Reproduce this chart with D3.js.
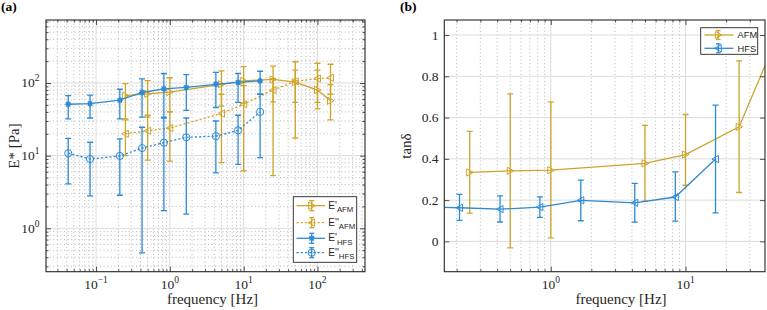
<!DOCTYPE html>
<html>
<head>
<meta charset="utf-8">
<script src="https://cdn.jsdelivr.net/npm/d3@7"></script>
<style>
  body { margin: 0; background: #fff; }
  svg { display: block; }
</style>
</head>
<body>
<svg id="chart" width="767" height="310"></svg>
<script>
// ---- data ----
const freqAFM = [0.25, 0.5, 1, 5, 10, 25, 50, 100, 150];
const storageAFM = [67, 71, 75, 96, 107, 112, 103, 80, 57];
const storageAFMLo = [32, 34, 40, 48, 53, 55, 54, 44, 31];
const storageAFMHi = [98, 108, 118, 147, 168, 171, 196, 150, 95];
const lossAFM = [20, 22, 24, 38, 51, 80, 105, 115, 118];
const lossAFMLo = [10, 8.7, 8.4, 8.0, 6.2, 5.3, 17.5, 54, 70];
const lossAFMHi = [31, 36, 40, 70, 92, 115, 150, 187, 181];

const freqHFS = [0.042, 0.083, 0.21, 0.42, 0.83, 1.67, 4.2, 8.4, 16.7];
const storageHFS = [51, 52, 58, 74, 83, 87, 96, 102, 107];
const storageHFSLo = [32, 33, 32, 34, 33, 42, 46, 54, 70];
const storageHFSHi = [67, 68, 82, 114, 135, 130, 140, 136, 145];
const lossHFS = [10.8, 9.0, 9.9, 12.7, 15.1, 17.9, 18.5, 22.3, 40];
const lossHFSLo = [4.1, 2.8, 2.85, 0.46, 1.75, 1.57, 5.8, 7.6, 9.4];
const lossHFSHi = [17.3, 15.3, 17, 24.6, 34, 33, 30, 36, 70];

const tanAFM = [0.334, 0.342, 0.345, 0.378, 0.421, 0.555, 1.02, 1.44, 2.07];
const tanAFMLo = [0.137, -0.032, 0.017, 0.195, 0.272, 0.237, 0.5, 0.8, 1.2];
const tanAFMHi = [0.533, 0.715, 0.676, 0.562, 0.615, 0.875, 1.6, 2.1, 2.9];
const tanHFS = [0.21, 0.17, 0.163, 0.156, 0.166, 0.199, 0.187, 0.215, 0.399];
const tanHFSLo = [0.1, 0.08, 0.102, 0.094, 0.116, 0.1, 0.093, 0.098, 0.138];
const tanHFSHi = [0.3, 0.26, 0.228, 0.221, 0.216, 0.297, 0.281, 0.337, 0.66];

const tanTicks = [0, 0.2, 0.4, 0.6, 0.8, 1];

// ---- styling ----
const GOLD = '#cfa42a';
const BLUE = '#2d8bd6';
const AXIS = '#262626';
const SERIF = '"Liberation Serif", "DejaVu Serif", serif';
const SANS = '"Liberation Sans", Arial, sans-serif';

const svg = d3.select('#chart');
const defs = svg.append('defs');

function logMinor(domain) {
  const out = [];
  const d0 = Math.floor(Math.log10(domain[0]));
  const d1 = Math.ceil(Math.log10(domain[1]));
  for (let d = d0; d <= d1; d++) {
    for (let k = 2; k <= 9; k++) {
      const v = k * Math.pow(10, d);
      if (v >= domain[0] && v <= domain[1]) out.push(v);
    }
  }
  return out;
}

function logMajor(domain) {
  const out = [];
  for (let d = Math.ceil(Math.log10(domain[0])); Math.pow(10, d) <= domain[1]; d++) out.push(Math.pow(10, d));
  return out;
}

function powLabel(sel, v) {
  const e = Math.round(Math.log10(v));
  sel.append('tspan').text('10');
  sel.append('tspan').attr('dy', -6).attr('font-size', 9.5).text(e < 0 ? '\u2212' + (-e) : e);
}

// marker shapes
const markers = {
  right: 'M-3,-3.6L3.6,0L-3,3.6Z',
  left: 'M3,-3.6L-3.6,0L3,3.6Z',
  star: 'M-3,0L3,0M0,-3L0,3M-2.2,-2.2L2.2,2.2M-2.2,2.2L2.2,-2.2',
};

function drawSeries(g, x, y, xs, ys, lo, hi, color, dashed, marker) {
  const pts = xs.map((f, i) => ({ f, v: ys[i], lo: lo[i], hi: hi[i] }));
  const line = d3.line().x(d => x(d.f)).y(d => y(d.v));
  g.append('path').datum(pts)
    .attr('d', line)
    .attr('fill', 'none')
    .attr('stroke', color)
    .attr('stroke-width', 1.3)
    .attr('stroke-dasharray', dashed ? '2.2,2' : null);
  const eb = g.append('g').attr('stroke', color).attr('stroke-width', 1.3).attr('fill', 'none');
  pts.forEach(d => {
    const cx = x(d.f);
    eb.append('line').attr('x1', cx).attr('x2', cx).attr('y1', y(d.lo)).attr('y2', y(d.hi));
    eb.append('line').attr('x1', cx - 3).attr('x2', cx + 3).attr('y1', y(d.lo)).attr('y2', y(d.lo));
    eb.append('line').attr('x1', cx - 3).attr('x2', cx + 3).attr('y1', y(d.hi)).attr('y2', y(d.hi));
  });
  drawMarkers(g, pts.map(d => [x(d.f), y(d.v)]), color, marker);
}

function drawMarkers(g, coords, color, marker) {
  const mg = g.append('g').attr('stroke', color).attr('stroke-width', 1);
  coords.forEach(([cx, cy]) => {
    if (marker === 'circle') {
      mg.append('circle').attr('cx', cx).attr('cy', cy).attr('r', 3.6).attr('fill', 'none');
    } else {
      mg.append('path').attr('d', markers[marker])
        .attr('transform', `translate(${cx},${cy})`)
        .attr('fill', 'none')
        .attr('stroke-width', marker === 'star' ? 1.4 : 1);
    }
  });
}

function frame(box, x, y, xMajor, xMinor, yMajor, yMinor, id) {
  const g = svg.append('g');
  // grid
  const grid = g.append('g');
  grid.selectAll('.xmin').data(xMinor).enter().append('line')
    .attr('x1', d => x(d)).attr('x2', d => x(d)).attr('y1', box.y0).attr('y2', box.y1)
    .attr('stroke', '#b0b0b0').attr('stroke-width', 0.9).attr('stroke-dasharray', '1,2.6');
  grid.selectAll('.ymin').data(yMinor).enter().append('line')
    .attr('y1', d => y(d)).attr('y2', d => y(d)).attr('x1', box.x0).attr('x2', box.x1)
    .attr('stroke', '#b0b0b0').attr('stroke-width', 0.9).attr('stroke-dasharray', '1,2.6');
  grid.selectAll('.xmaj').data(xMajor).enter().append('line')
    .attr('x1', d => x(d)).attr('x2', d => x(d)).attr('y1', box.y0).attr('y2', box.y1)
    .attr('stroke', '#dcdcdc').attr('stroke-width', 1);
  grid.selectAll('.ymaj').data(yMajor).enter().append('line')
    .attr('y1', d => y(d)).attr('y2', d => y(d)).attr('x1', box.x0).attr('x2', box.x1)
    .attr('stroke', '#dcdcdc').attr('stroke-width', 1);

  defs.append('clipPath').attr('id', id).append('rect')
    .attr('x', box.x0).attr('y', box.y0).attr('width', box.x1 - box.x0).attr('height', box.y1 - box.y0);
  const plot = g.append('g').attr('clip-path', `url(#${id})`);
  return { g, plot };
}

function axes(g, box, x, y, xMajor, xMinor, yMajor, yMinor) {
  const ax = g.append('g');
  const put = (axisFn, tr, vals, size) => {
    const a = ax.append('g').attr('transform', tr)
      .call(axisFn.tickValues(vals).tickSize(size).tickFormat(''));
    a.select('.domain').remove();
    a.selectAll('line').attr('stroke', AXIS).attr('stroke-width', 0.8);
  };
  put(d3.axisBottom(x), `translate(0,${box.y1})`, xMajor, -5);
  put(d3.axisBottom(x), `translate(0,${box.y1})`, xMinor, -2.5);
  put(d3.axisTop(x), `translate(0,${box.y0})`, xMajor, -5);
  put(d3.axisTop(x), `translate(0,${box.y0})`, xMinor, -2.5);
  put(d3.axisLeft(y), `translate(${box.x0},0)`, yMajor, -5);
  put(d3.axisRight(y), `translate(${box.x1},0)`, yMajor, -5);
  if (yMinor.length) {
    put(d3.axisLeft(y), `translate(${box.x0},0)`, yMinor, -2.5);
    put(d3.axisRight(y), `translate(${box.x1},0)`, yMinor, -2.5);
  }
  ax.append('rect').attr('x', box.x0).attr('y', box.y0)
    .attr('width', box.x1 - box.x0).attr('height', box.y1 - box.y0)
    .attr('fill', 'none').attr('stroke', AXIS).attr('stroke-width', 1.1);
}

// ================= panel (a) =================
const boxA = { x0: 46, x1: 365, y0: 20, y1: 271.7 };
const xA = d3.scaleLog().domain([0.021, 440]).range([boxA.x0, boxA.x1]);
const yA = d3.scaleLog().domain([0.253, 736]).range([boxA.y1, boxA.y0]);
const xAMajor = logMajor(xA.domain());
const xAMinor = logMinor(xA.domain());
const yAMajor = logMajor(yA.domain());
const yAMinor = logMinor(yA.domain());

const A = frame(boxA, xA, yA, xAMajor, xAMinor, yAMajor, yAMinor, 'clipA');
drawSeries(A.plot, xA, yA, freqAFM, storageAFM, storageAFMLo, storageAFMHi, GOLD, false, 'right');
drawSeries(A.plot, xA, yA, freqAFM, lossAFM, lossAFMLo, lossAFMHi, GOLD, true, 'left');
drawSeries(A.plot, xA, yA, freqHFS, storageHFS, storageHFSLo, storageHFSHi, BLUE, false, 'star');
drawSeries(A.plot, xA, yA, freqHFS, lossHFS, lossHFSLo, lossHFSHi, BLUE, true, 'circle');
axes(A.g, boxA, xA, yA, xAMajor, xAMinor, yAMajor, yAMinor);

xAMajor.forEach(v => {
  const t = A.g.append('text').attr('x', xA(v)).attr('y', 289)
    .attr('text-anchor', 'middle').attr('font-family', SERIF).attr('font-size', 13.5).attr('fill', AXIS);
  powLabel(t, v);
});
yAMajor.forEach(v => {
  const t = A.g.append('text').attr('x', 39.5).attr('y', yA(v) + 4.5)
    .attr('text-anchor', 'end').attr('font-family', SERIF).attr('font-size', 13.5).attr('fill', AXIS);
  powLabel(t, v);
});
A.g.append('text').attr('x', 212.5).attr('y', 304).attr('text-anchor', 'middle')
  .attr('font-family', SERIF).attr('font-size', 15).attr('fill', AXIS).text('frequency [Hz]');
A.g.append('text').attr('transform', 'translate(19,146) rotate(-90)').attr('text-anchor', 'middle')
  .attr('font-family', SERIF).attr('font-size', 15).attr('fill', AXIS).text('E* [Pa]');
svg.append('text').attr('x', 1).attr('y', 11).attr('font-family', SERIF).attr('font-weight', 'bold')
  .attr('font-size', 13.5).attr('fill', '#000').text('(a)');

// legend (a)
const legA = [
  { name: "E'", sub: 'AFM', color: GOLD, dashed: false, marker: 'right', y: 205.7 },
  { name: "E''", sub: 'AFM', color: GOLD, dashed: true, marker: 'left', y: 222.7 },
  { name: "E'", sub: 'HFS', color: BLUE, dashed: false, marker: 'star', y: 238.3 },
  { name: "E''", sub: 'HFS', color: BLUE, dashed: true, marker: 'circle', y: 252.7 },
];
const lgA = svg.append('g');
lgA.append('rect').attr('x', 293.3).attr('y', 196.7).attr('width', 63.4).attr('height', 65.6)
  .attr('fill', '#fff').attr('stroke', AXIS).attr('stroke-width', 0.9);
legA.forEach(d => {
  lgA.append('line').attr('x1', 296.5).attr('x2', 325).attr('y1', d.y).attr('y2', d.y)
    .attr('stroke', d.color).attr('stroke-width', 1.3).attr('stroke-dasharray', d.dashed ? '2.2,2' : null);
  const eb = lgA.append('g').attr('stroke', d.color).attr('stroke-width', 1.3);
  eb.append('line').attr('x1', 311.7).attr('x2', 311.7).attr('y1', d.y - 5).attr('y2', d.y + 5);
  eb.append('line').attr('x1', 309.2).attr('x2', 314.2).attr('y1', d.y - 5).attr('y2', d.y - 5);
  eb.append('line').attr('x1', 309.2).attr('x2', 314.2).attr('y1', d.y + 5).attr('y2', d.y + 5);
  drawMarkers(lgA, [[311.7, d.y]], d.color, d.marker);
  const t = lgA.append('text').attr('x', 328.3).attr('y', d.y + 3)
    .attr('font-family', SANS).attr('font-size', 10).attr('fill', AXIS);
  t.append('tspan').text(d.name);
  t.append('tspan').attr('dy', 3.5).attr('font-size', 7.8).text(d.sub);
});

// ================= panel (b) =================
const boxB = { x0: 444.3, x1: 765, y0: 20, y1: 271.7 };
const xB = d3.scaleLog().domain([0.162, 38.9]).range([boxB.x0, boxB.x1]);
const yB = d3.scaleLinear().domain([-0.147, 1.073]).range([boxB.y1, boxB.y0]);
const xBMajor = logMajor(xB.domain());
const xBMinor = logMinor(xB.domain());

const B = frame(boxB, xB, yB, xBMajor, xBMinor, tanTicks, [], 'clipB');
drawSeries(B.plot, xB, yB, freqAFM, tanAFM, tanAFMLo, tanAFMHi, GOLD, false, 'right');
drawSeries(B.plot, xB, yB, freqHFS, tanHFS, tanHFSLo, tanHFSHi, BLUE, false, 'left');
axes(B.g, boxB, xB, yB, xBMajor, xBMinor, tanTicks, []);

xBMajor.forEach(v => {
  const t = B.g.append('text').attr('x', xB(v)).attr('y', 289)
    .attr('text-anchor', 'middle').attr('font-family', SERIF).attr('font-size', 13.5).attr('fill', AXIS);
  powLabel(t, v);
});
tanTicks.forEach(v => {
  B.g.append('text').attr('x', 438.5).attr('y', yB(v) + 4.5)
    .attr('text-anchor', 'end').attr('font-family', SERIF).attr('font-size', 13.5).attr('fill', AXIS)
    .text(d3.format('~g')(v));
});
B.g.append('text').attr('x', 621).attr('y', 304).attr('text-anchor', 'middle')
  .attr('font-family', SERIF).attr('font-size', 15).attr('fill', AXIS).text('frequency [Hz]');
B.g.append('text').attr('transform', 'translate(411,146) rotate(-90)').attr('text-anchor', 'middle')
  .attr('font-family', SERIF).attr('font-size', 15).attr('fill', AXIS).text('tan\u03b4');
svg.append('text').attr('x', 400).attr('y', 11).attr('font-family', SERIF).attr('font-weight', 'bold')
  .attr('font-size', 13.5).attr('fill', '#000').text('(b)');

// legend (b)
const legB = [
  { name: 'AFM', color: GOLD, marker: 'right', y: 35 },
  { name: 'HFS', color: BLUE, marker: 'left', y: 48.3 },
];
const lgB = svg.append('g');
lgB.append('rect').attr('x', 700.7).attr('y', 27.7).attr('width', 57).attr('height', 26.6)
  .attr('fill', '#fff').attr('stroke', AXIS).attr('stroke-width', 0.9);
legB.forEach(d => {
  lgB.append('line').attr('x1', 704.5).attr('x2', 733.5).attr('y1', d.y).attr('y2', d.y)
    .attr('stroke', d.color).attr('stroke-width', 1.3);
  const eb = lgB.append('g').attr('stroke', d.color).attr('stroke-width', 1.3);
  eb.append('line').attr('x1', 718.3).attr('x2', 718.3).attr('y1', d.y - 4.5).attr('y2', d.y + 4.5);
  eb.append('line').attr('x1', 716).attr('x2', 720.6).attr('y1', d.y - 4.5).attr('y2', d.y - 4.5);
  eb.append('line').attr('x1', 716).attr('x2', 720.6).attr('y1', d.y + 4.5).attr('y2', d.y + 4.5);
  drawMarkers(lgB, [[718.3, d.y]], d.color, d.marker);
  lgB.append('text').attr('x', 737.5).attr('y', d.y + 3.3)
    .attr('font-family', SANS).attr('font-size', 9.3).attr('fill', AXIS).text(d.name);
});
</script>
</body>
</html>
